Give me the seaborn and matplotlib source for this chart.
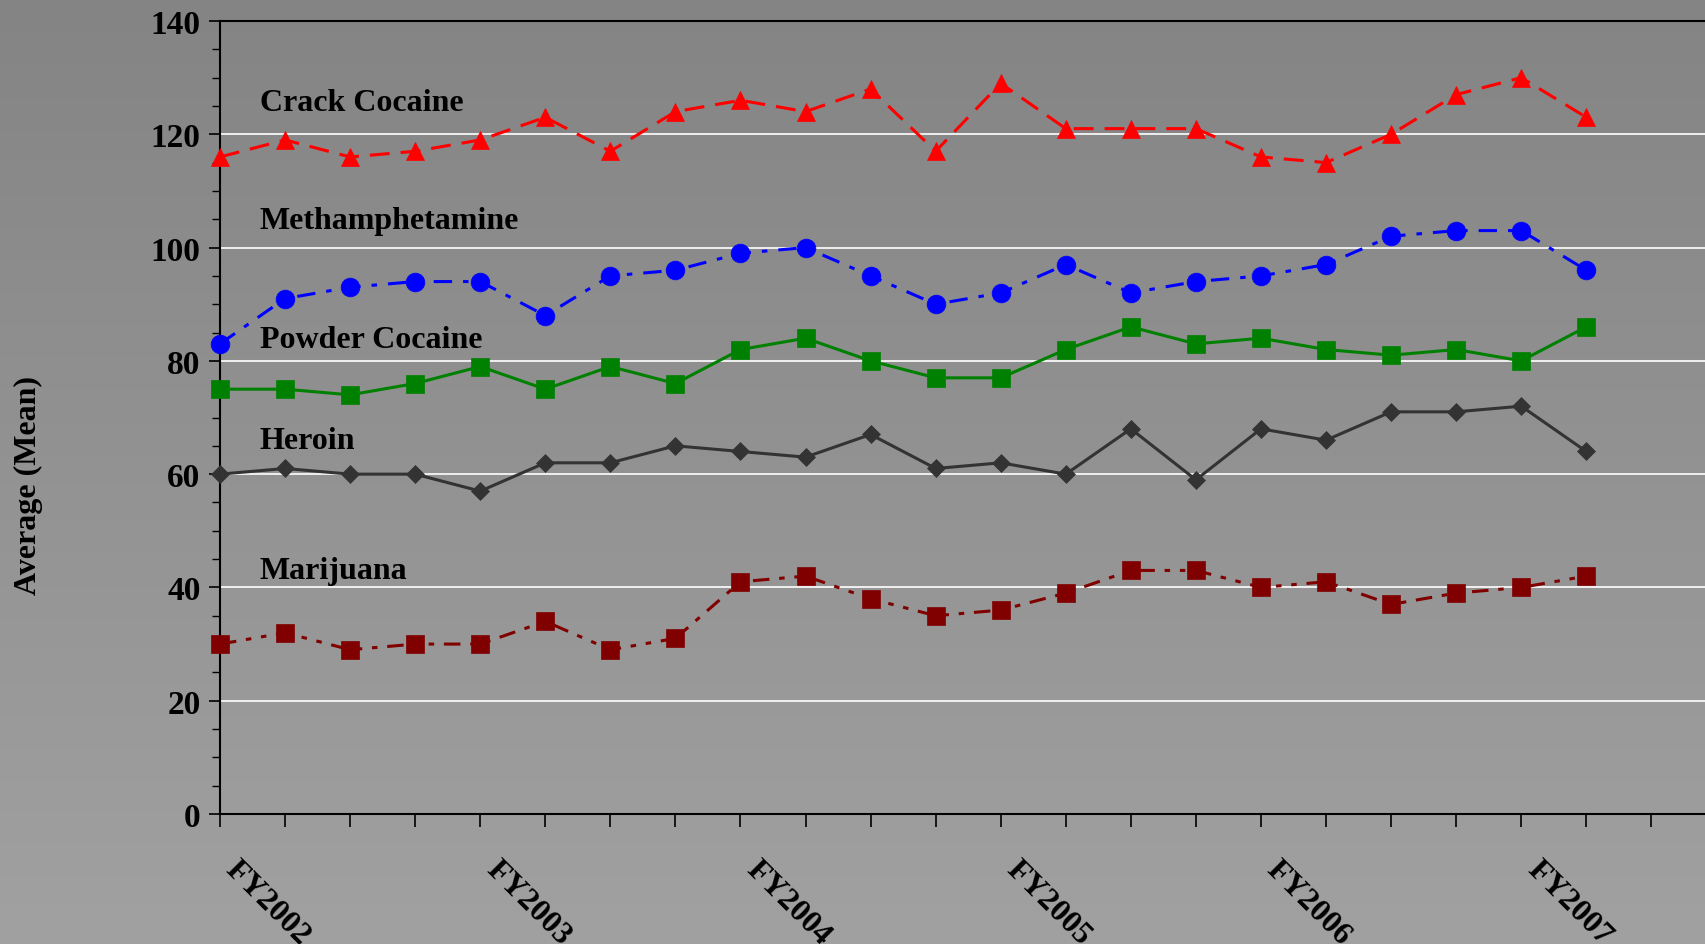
import numpy as np
import pandas as pd
import matplotlib
matplotlib.use("Agg")
import matplotlib.pyplot as plt
import seaborn as sns

# ─────────────────────────────────────────
# Data (quarterly means, FY2002 Q1 .. FY2007 Q2)
# ─────────────────────────────────────────
quarters = list(range(22))
year_labels = ["FY2002", "FY2003", "FY2004", "FY2005", "FY2006", "FY2007"]
year_ticks = [0, 4, 8, 12, 16, 20]

crack = [116, 119, 116, 117, 119, 123, 117, 124, 126, 124, 128,
         117, 129, 121, 121, 121, 116, 115, 120, 127, 130, 123]
meth = [83, 91, 93, 94, 94, 88, 95, 96, 99, 100, 95,
        90, 92, 97, 92, 94, 95, 97, 102, 103, 103, 96]
powder = [75, 75, 74, 76, 79, 75, 79, 76, 82, 84, 80,
          77, 77, 82, 86, 83, 84, 82, 81, 82, 80, 86]
heroin = [60, 61, 60, 60, 57, 62, 62, 65, 64, 63, 67,
          61, 62, 60, 68, 59, 68, 66, 71, 71, 72, 64]
marijuana = [30, 32, 29, 30, 30, 34, 29, 31, 41, 42, 38,
             35, 36, 39, 43, 43, 40, 41, 37, 39, 40, 42]

series_names = ["Crack Cocaine", "Methamphetamine", "Powder Cocaine",
                "Heroin", "Marijuana"]
label_y = [125.6, 104.7, 83.7, 65.9, 43.0]

# style per series: color, marker, markersize, linestyle
styles = {
    "Crack Cocaine":   ("#ff0000", "^", 13.5, (0, (6.5, 3.6))),
    "Methamphetamine": ("#0000ff", "o", 13.5, (0, (6, 3.6, 1.8, 3.6))),
    "Powder Cocaine":  ("#008000", "s", 12.5, "-"),
    "Heroin":          ("#333333", "D", 9, "-"),
    "Marijuana":       ("#800000", "s", 12.5,
                        (0, (5.4, 3.2, 1.8, 3.2, 1.8, 3.2))),
}

df = pd.DataFrame({
    "quarter": quarters * 5,
    "value": crack + meth + powder + heroin + marijuana,
    "drug": sum([[n] * 22 for n in series_names], []),
})

# ─────────────────────────────────────────
# Figure
# ─────────────────────────────────────────
sns.set_style("ticks")
plt.rcParams["font.family"] = ["Liberation Serif", "DejaVu Serif"]
plt.rcParams["font.weight"] = "bold"
plt.rcParams["text.color"] = "black"
plt.rcParams["axes.labelcolor"] = "black"
plt.rcParams["xtick.color"] = "black"
plt.rcParams["ytick.color"] = "black"

fig = plt.figure(figsize=(17.06, 9.45), dpi=100)

# gradient gray background
bg = fig.add_axes([0, 0, 1, 1], zorder=-10)
grad = np.linspace(0x84, 0xA1, 256)[:, None] / 255.0
bg.imshow(np.dstack([grad, grad, grad]), aspect="auto",
          extent=[0, 1, 0, 1], origin="upper")
bg.set_axis_off()

ax = fig.add_axes([220 / 1706, 1 - 815 / 945, 1 - 220 / 1706,
                   (815 - 22) / 945])
ax.set_facecolor("none")

for name in series_names:
    color, marker, ms, ls = styles[name]
    sub = df[df["drug"] == name]
    sns.lineplot(data=sub, x="quarter", y="value", ax=ax, color=color,
                 marker=marker, markersize=ms, markeredgecolor=color,
                 markeredgewidth=0.5, linewidth=2.2, linestyle=ls,
                 clip_on=False, zorder=3)

for name, yv in zip(series_names, label_y):
    ax.text(0.61, yv, name, fontsize=23, fontweight="bold",
            va="center", ha="left", color="black")

ax.set_ylim(0, 140)
ax.set_xlim(0, 22.84)
ax.set_yticks(range(0, 141, 20))
ax.set_yticks(range(0, 141, 5), minor=True)
ax.set_xticks(range(0, 23))
ax.set_xticklabels([year_labels[year_ticks.index(i)] if i in year_ticks
                    else "" for i in range(23)])
ax.yaxis.grid(True, color="white", linewidth=1.2)
ax.set_axisbelow(True)

ax.tick_params(axis="y", labelsize=24, length=8, width=1.2, pad=6,
               direction="out", colors="black")
ax.tick_params(axis="y", which="minor", length=6, width=1)
ax.tick_params(axis="x", labelsize=23, length=9, width=1.2,
               direction="out", pad=20, colors="black")
for lbl in ax.get_xticklabels():
    lbl.set_rotation(-45)
    lbl.set_ha("left")
    lbl.set_va("top")
    lbl.set_fontweight("bold")
for lbl in ax.get_yticklabels():
    lbl.set_fontweight("bold")

for side in ["left", "bottom", "top"]:
    ax.spines[side].set_visible(True)
    ax.spines[side].set_color("black")
    ax.spines[side].set_linewidth(1.5)
ax.spines["right"].set_visible(False)

ax.set_xlabel("")
ax.set_ylabel("Average (Mean)", fontsize=23, fontweight="bold",
              color="black")
ax.yaxis.set_label_coords(-0.119, 0.416)

fig.savefig("out.png", dpi=100)
